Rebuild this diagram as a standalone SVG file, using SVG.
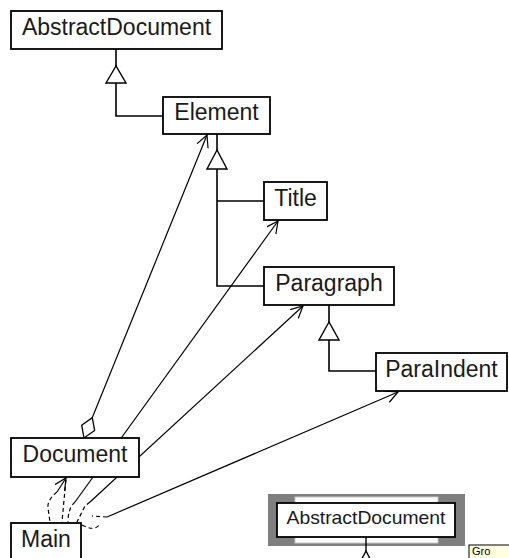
<svg xmlns="http://www.w3.org/2000/svg" width="509" height="558" viewBox="0 0 509 558">
<style>
.box{fill:#fff;stroke:#000;stroke-width:1.8}
.lbl{font-family:"Liberation Sans",Arial,sans-serif;font-size:23px;fill:#1a1a1a;text-anchor:middle}
.gen{fill:none;stroke:#000;stroke-width:1.6}
.tri{fill:#fff;stroke:#000;stroke-width:1.4}
.asc{fill:none;stroke:#000;stroke-width:1.2}
.dep{fill:none;stroke:#000;stroke-width:1.2;stroke-dasharray:4,3}
</style>
<defs>
<marker id="open" markerUnits="userSpaceOnUse" markerWidth="16" markerHeight="16" refX="12" refY="6" orient="auto">
<path d="M0,0 L12,6 L0,12" fill="none" stroke="#000" stroke-width="1.2"/>
</marker>
<marker id="dia" markerUnits="userSpaceOnUse" markerWidth="26" markerHeight="18" refX="0" refY="8" orient="auto">
<path d="M0,8 L11,1 L22,8 L11,15 Z" fill="#fff" stroke="#000" stroke-width="1.3"/>
</marker>
</defs>
<rect width="509" height="558" fill="#fff"/>
<g id="connectors">
<polyline class="gen" points="163,116 116,116 116,83"/>
<line class="gen" x1="116" y1="49" x2="116" y2="66"/>
<polygon class="tri" points="116,66 106,83 126,83"/>
<polyline class="gen" points="264,201 217,201"/>
<polyline class="gen" points="264,286 217,286 217,169"/>
<line class="gen" x1="217" y1="134" x2="217" y2="150"/>
<polygon class="tri" points="217,150 207,169 227,169"/>
<polyline class="gen" points="376,371 329,371 329,340"/>
<line class="gen" x1="329" y1="305" x2="329" y2="322"/>
<polygon class="tri" points="329,322 319,340 339,340"/>
<line class="asc" x1="84" y1="438" x2="207" y2="135" marker-start="url(#dia)" marker-end="url(#open)"/>
<line class="asc" x1="75" y1="502" x2="278" y2="221" marker-end="url(#open)"/>
<line class="asc" x1="90" y1="502" x2="303" y2="306" marker-end="url(#open)"/>
<line class="asc" x1="107" y1="517" x2="398" y2="392" marker-end="url(#open)"/>
<line class="asc" x1="57" y1="492" x2="66" y2="478" marker-end="url(#open)"/>
<path class="dep" d="M57,492 Q47,500 48,508 L50,522"/>
<path class="dep" d="M66,480 L64,500 L62,522"/>
<path class="dep" d="M75,502 Q68,508 68,522"/>
<path class="dep" d="M90,502 L85,506 L77,522"/>
<path class="dep" d="M107,517 L92,516 M82,525 Q95,532 100,524"/>
</g>
<g id="AbstractDocument">
<rect class="box" x="11" y="11" width="211" height="38"/>
<text class="lbl" x="116.5" y="35">AbstractDocument</text>
</g>
<g id="Element">
<rect class="box" x="163" y="97" width="107" height="37"/>
<text class="lbl" x="216.5" y="120">Element</text>
</g>
<g id="Title">
<rect class="box" x="264" y="182" width="63" height="38"/>
<text class="lbl" x="295.5" y="206">Title</text>
</g>
<g id="Paragraph">
<rect class="box" x="264" y="267" width="130" height="38"/>
<text class="lbl" x="329" y="291">Paragraph</text>
</g>
<g id="ParaIndent">
<rect class="box" x="376" y="353" width="131" height="38"/>
<text class="lbl" x="441.5" y="377">ParaIndent</text>
</g>
<g id="Document">
<rect class="box" x="11" y="438" width="128" height="39"/>
<text class="lbl" x="75" y="462">Document</text>
</g>
<g id="Main">
<rect class="box" x="11" y="523" width="70" height="45"/>
<text class="lbl" x="46" y="547">Main</text>
</g>
<g id="thumbnail">
<rect x="268" y="494" width="197" height="52" fill="#7f7f7f"/>
<rect x="295" y="497" width="143" height="46" fill="#fff" stroke="#c8c8c8" stroke-width="1"/>
<rect class="box" x="277" y="503" width="178" height="34"/>
<text x="366" y="523.5" font-family="Liberation Sans, Arial, sans-serif" font-size="18.5" fill="#1a1a1a" text-anchor="middle" textLength="159" lengthAdjust="spacingAndGlyphs">AbstractDocument</text>
<line x1="366" y1="537" x2="366" y2="551" stroke="#000" stroke-width="1.4"/>
<polygon points="366,551 357,568 375,568" fill="#fff" stroke="#000" stroke-width="1.4"/>
</g>
<g id="tooltip">
<rect x="469" y="545" width="60" height="30" fill="#ffffe1" stroke="#000" stroke-width="1"/>
<text x="472" y="554.5" font-family="Liberation Sans, Arial, sans-serif" font-size="11" fill="#000">Gro</text>
</g>
</svg>
